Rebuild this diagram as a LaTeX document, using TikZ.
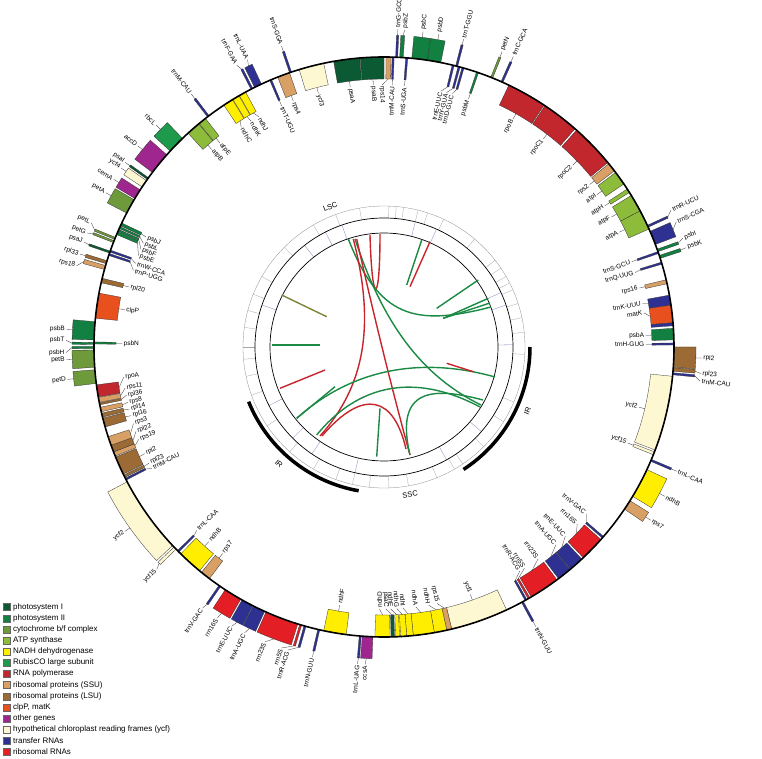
\documentclass[tikz,border=0pt]{standalone}
\usepackage{fontspec}
\setmainfont{Liberation Sans}
\usepackage{tikz}

\definecolor{psI}{HTML}{0B5A33}
\definecolor{psII}{HTML}{118040}
\definecolor{cyt}{HTML}{6E9A3C}
\definecolor{atp}{HTML}{8DBB3A}
\definecolor{ndh}{HTML}{FFEE00}
\definecolor{rubisco}{HTML}{1E9A4C}
\definecolor{rnap}{HTML}{C1272D}
\definecolor{ssu}{HTML}{D9A066}
\definecolor{lsu}{HTML}{9C6A35}
\definecolor{clp}{HTML}{E8501E}
\definecolor{other}{HTML}{A0268F}
\definecolor{ycf}{HTML}{FDF7D2}
\definecolor{trna}{HTML}{2E3192}
\definecolor{rrna}{HTML}{E31E24}
\definecolor{chgreen}{HTML}{1A8A45}
\definecolor{chred}{HTML}{C8242B}

\tikzset{
  glabel/.style={inner sep=0.5pt,font=\fontsize{6.5}{7}\selectfont},
  leader/.style={line width=0.3pt,black!80},
  chord/.style={line width=1.4pt},
  ringtick/.style={line width=0.3pt,black!35},
}

% gene box between two angles (clockwise from north) and two radii
\newcommand{\gbox}[5]{%
  \pgfmathsetmacro\ga{90-#1}\pgfmathsetmacro\gb{90-#2}%
  \filldraw[fill=#5,draw=black!80,line width=0.3pt] (\ga:#3) arc[start angle=\ga,end angle=\gb,radius=#3]
    -- (\gb:#4) arc[start angle=\gb,end angle=\ga,radius=#4] -- cycle;}
% gene outside the circle
\newcommand{\gout}[5][]{%
  \gbox{#2}{#3}{290}{312}{#4}%
  \pgfmathsetmacro\gm{90-(#2+#3)/2}%
  \ifx\relax#1\relax\let\gl\gm\else\pgfmathsetmacro\gl{90-#1}\fi
  \pgfmathtruncatemacro\gside{cos(\gl)>=0 ? 1 : 0}%
  \draw[leader] (\gm:312) -- (\gl:318);
  \ifnum\gside=1 \node[glabel,anchor=west,rotate=\gl] at (\gl:319) {#5};
  \else \pgfmathsetmacro\gr{\gl+180}\node[glabel,anchor=east,rotate=\gr] at (\gl:319) {#5};\fi}
% gene inside the circle
\newcommand{\gin}[5][]{%
  \gbox{#2}{#3}{268}{290}{#4}%
  \pgfmathsetmacro\gm{90-(#2+#3)/2}%
  \ifx\relax#1\relax\let\gl\gm\else\pgfmathsetmacro\gl{90-#1}\fi
  \pgfmathtruncatemacro\gside{cos(\gl)>=0 ? 1 : 0}%
  \draw[leader] (\gm:268) -- (\gl:262);
  \ifnum\gside=1 \node[glabel,anchor=east,rotate=\gl] at (\gl:261) {#5};
  \else \pgfmathsetmacro\gr{\gl+180}\node[glabel,anchor=west,rotate=\gr] at (\gl:261) {#5};\fi}

\begin{document}
\begin{tikzpicture}[x=1pt,y=1pt]
  \useasboundingbox[fill=white] (-384,-412) rectangle (378,347);

  % LSC
  \gin{350}{355.2}{psI}{psaA}
  \gin{355.3}{360}{psI}{psaB}
  \gin[359.6]{0.4}{1.4}{ssu}{rps14}
  \gin[1.8]{1.6}{2}{trna}{trnM-CAU}
  \gout{2.3}{2.7}{trna}{trnG-GCC}
  \gout[3.8]{3.1}{3.8}{psII}{psbZ}
  \gin{4.3}{4.7}{trna}{trnS-UGA}
  \gout{5.5}{8.6}{psII}{psbC}
  \gout{8.6}{11.3}{psII}{psbD}
  \gout{14.3}{14.7}{trna}{trnT-GGU}
  \gin[12.5]{13.6}{14}{trna}{trnE-UUC}
  \gin[13.8]{14.8}{15.2}{trna}{trnY-GUA}
  \gin[15.1]{15.6}{16}{trna}{trnD-GUC}
  \gin{18.6}{19}{psII}{psbM}
  \gout{21.6}{22}{cyt}{petN}
  \gout{23.8}{24.2}{trna}{trnC-GCA}
  \gin{25.5}{33.5}{rnap}{rpoB}
  \gin{33.7}{41.2}{rnap}{rpoC1}
  \gin{41.6}{50.5}{rnap}{rpoC2}
  \gin{50.8}{52.6}{ssu}{rps2}
  \gin{53}{55.8}{atp}{atpI}
  \gin{57}{57.8}{atp}{atpH}
  \gin{58.5}{62}{atp}{atpF}
  \gin{62}{66}{atp}{atpA}
  \gout[64.5]{65.2}{65.6}{trna}{trnR-UCU}
  \gout[66.8]{66.5}{69.3}{trna}{trnS-CGA}
  \gout[70]{70.3}{70.8}{psII}{psbI}
  \gout[71.8]{71.6}{72.2}{psII}{psbK}
  \gin[71]{70.8}{71.2}{trna}{trnS-GCU}
  \gin[73.5]{73}{73.4}{trna}{trnQ-UUG}
  \gin{76.6}{77.4}{ssu}{rps16}
  \gin[80.5]{79.7}{81.7}{trna}{trnK-UUU}
  \gin[82.5]{81.7}{85.2}{clp}{matK}
  \gbox{85.2}{85.8}{268}{290}{trna}
  \gin{86.3}{88.6}{psII}{psbA}
  \gin{89.2}{89.6}{trna}{trnH-GUG}
  % IRa
  \gout{90}{94}{lsu}{rpl2}
  \gout[94.8]{94.1}{94.8}{lsu}{rpl23}
  \gout[96.2]{95.1}{95.5}{trna}{trnM-CAU}
  \gin{95.8}{110.8}{ycf}{ycf2}
  \gin{111.2}{111.8}{ycf}{ycf15}
  \gout{112.8}{113.2}{trna}{trnL-CAA}
  \gout{115}{121}{ndh}{ndhB}
  \gout{122}{124}{ssu}{rps7}
  \gin[129.5]{130.8}{131.2}{trna}{trnV-GAC}
  \gin[132.5]{131.6}{136.6}{rrna}{rrn16S}
  \gin[136.2]{137}{140}{trna}{trnE-UUC}
  \gin[139]{140.1}{143}{trna}{trnA-UGC}
  \gin[144]{143.4}{149.5}{rrna}{rrn23S}
  \gin[147.6]{149.8}{150.2}{rrna}{rrn5S}
  \gin[148.8]{150.5}{150.9}{trna}{trnR-ACG}
  \gout{151.3}{151.7}{trna}{trnN-GUU}
  % SSC
  \gin{155}{166.5}{ycf}{ycf1}
  \gin[168.3]{166.5}{167.5}{ssu}{rps15}
  \gin[170.2]{167.5}{170}{ndh}{ndhH}
  \gin[173]{170}{174.2}{ndh}{ndhA}
  \gin[175.8]{174.2}{175.5}{ndh}{ndhI}
  \gin[177.2]{175.5}{176.7}{ndh}{ndhG}
  \gin[178.5]{176.9}{177.7}{ndh}{ndhE}
  \gin[179.6]{177.9}{178.6}{psI}{psaC}
  \gin[181]{178.8}{181.8}{ndh}{ndhD}
  \gout[183.4]{182.2}{184.3}{other}{ccsA}
  \gout[184.8]{184.5}{184.9}{trna}{trnL-UAG}
  \gin{187.5}{192}{ndh}{ndhF}
  \gout{192.8}{193.2}{trna}{trnN-GUU}
  % IRb
  \gout[197.6]{195.6}{196}{trna}{trnR-ACG}
  \gout[198.8]{196.5}{196.9}{rrna}{rrn5S}
  \gout[202]{197.3}{204}{rrna}{rrn23S}
  \gout[206]{204.3}{206.8}{trna}{trnA-UGC}
  \gout[208.6]{206.9}{209.3}{trna}{trnE-UUC}
  \gout[211.6]{209.6}{213.2}{rrna}{rrn16S}
  \gout[214.8]{214.3}{214.7}{trna}{trnV-GAC}
  \gin{217}{219}{ssu}{rps7}
  \gin{219.5}{224.5}{ndh}{ndhB}
  \gin[225.6]{225}{225.4}{trna}{trnL-CAA}
  \gout[225.6]{225.8}{226.4}{ycf}{ycf15}
  \gout{226.8}{242.3}{ycf}{ycf2}
  \gin[242.4]{242.7}{243.1}{trna}{trnM-CAU}
  \gin[243.7]{243.3}{243.8}{lsu}{rpl23}
  \gin[246]{244}{247.7}{lsu}{rpl2}
  % LSC
  \gin[249.4]{247.9}{248.8}{ssu}{rps19}
  \gin[251.2]{248.8}{250.2}{lsu}{rpl22}
  \gin[253]{250.2}{252}{ssu}{rps3}
  \gin[254.8]{254}{255.8}{lsu}{rpl16}
  \gin[256.3]{256}{256.8}{lsu}{rpl14}
  \gin[257.8]{257.1}{258}{ssu}{rps8}
  \gin[259.4]{258.5}{258.9}{lsu}{rpl36}
  \gin[261]{259}{260}{ssu}{rps11}
  \gin[263.4]{260.1}{262.5}{rnap}{rpoA}
  \gout{262.8}{265.5}{cyt}{petD}
  \gout{266}{269.4}{cyt}{petB}
  \gout[269]{269.7}{270.1}{psII}{psbH}
  \gout[271.2]{270.5}{270.9}{psII}{psbT}
  \gin{270.6}{271}{psII}{psbN}
  \gout{271.4}{275}{psII}{psbB}
  \gin{275.7}{280.7}{clp}{clpP}
  \gin{282.8}{283.7}{lsu}{rpl20}
  \gout[284.8]{285.5}{286.3}{ssu}{rps18}
  \gout[287]{286.7}{287.3}{lsu}{rpl33}
  \gout[289.3]{288.9}{289.3}{psI}{psaJ}
  \gin[287]{288.4}{288.8}{trna}{trnP-UGG}
  \gin[288.6]{289.1}{289.5}{trna}{trnW-CCA}
  \gout[291]{291.1}{291.5}{cyt}{petG}
  \gout[293]{291.8}{292.2}{cyt}{petL}
  \gin[290.4]{292.8}{293.4}{psII}{psbE}
  \gin[291.9]{293.5}{293.9}{psII}{psbF}
  \gin[293.3]{294.1}{294.5}{psII}{psbL}
  \gin[294.8]{294.7}{295.3}{psII}{psbJ}
  \gout{297.5}{300.5}{cyt}{petA}
  \gout{300.8}{302.8}{other}{cemA}
  \gout{303.5}{305}{ycf}{ycf4}
  \gout{305.3}{305.7}{psI}{psaI}
  \gout{307}{311.5}{other}{accD}
  \gout{312.5}{316}{rubisco}{rbcL}
  \gin{317.5}{320.3}{atp}{atpB}
  \gin{320.4}{322}{atp}{atpE}
  \gout{322.5}{322.9}{trna}{trnM-CAU}
  \gin[327]{326.5}{328.5}{ndh}{ndhC}
  \gin[329.5]{328.6}{330}{ndh}{ndhK}
  \gin[331.5]{330.1}{331.5}{ndh}{ndhJ}
  \gout[332.4]{332.7}{333.1}{trna}{trnF-GAA}
  \gout[334.6]{333.5}{335}{trna}{trnL-UAA}
  \gin{336.8}{337.2}{trna}{trnT-UGU}
  \gin{338.5}{341}{ssu}{rps4}
  \gout{341}{341.4}{trna}{trnS-GGA}
  \gin{343}{348}{ycf}{ycf3}

  % genome circle
  \draw[line width=1.6pt] (0,0) circle[radius=290];

  % inner rings
  \draw[line width=0.3pt,black!45] (0,0) circle[radius=141];
  \foreach \t in {2,5,8,14,18,25,40,52,56,60,63,66,72,78,84,93,113,122,135,146,150,158,170,178,186,193,200,210,222,236,250,258,265,270,278,285,292,300,315,330,340,350}
    \draw[ringtick] ({90-\t}:129) -- ({90-\t}:141);
  \foreach \t in {14,24,65,71,89,131,151,193,214,225,243,289,322,333,341}
    \draw[line width=0.3pt,trna!60] ({90-\t}:114) -- ({90-\t}:129);
  \draw[line width=0.7pt] (0,0) circle[radius=129];
  \draw[line width=0.7pt] (0,0) circle[radius=114];
  \draw[line width=3.5pt] (0:146) arc[start angle=0,end angle=-57,radius=146];
  \draw[line width=3.5pt] (-100:146) arc[start angle=-100,end angle=-158,radius=146];
  \node[glabel,font=\fontsize{7.5}{8}\selectfont,rotate=21] (lsc) at (111:150) {LSC};
  \node[glabel,font=\fontsize{7.5}{8}\selectfont,rotate=10] (ssc) at (-80:150) {SSC};
  \node[glabel,font=\fontsize{7.5}{8}\selectfont,rotate=66] (ira) at (-24:157) {IR};
  \node[glabel,font=\fontsize{7.5}{8}\selectfont,rotate=-42] (irb) at (-132:157) {IR};

  % repeats
  \draw[chord,chred] (-14,112) .. controls (-12,40) and (-4,40) .. (-4,113);
  \draw[chord,chgreen] (37.7,107) -- (22.7,62);
  \draw[chord,chred] (46,105.3) -- (26,60.3);
  \draw[chord,chgreen] (-35.7,108) .. controls (-5,30) and (30,20) .. (107,40);
  \draw[chord,chgreen] (59.3,28.7) -- (104.3,48.7);
  \draw[chord,chgreen] (59.3,28.7) -- (106,44);
  \draw[chord,chgreen] (52.7,38.7) -- (94.3,67);
  \draw[chord,chgreen] (-29,108) .. controls (0,20) and (40,-30) .. (97,-58);
  \draw[chord,chred] (-30.7,108) .. controls (-8,20) and (-20,-40) .. (-64,-89);
  \draw[chord,chred] (-27.3,108) .. controls (-10,30) and (10,-50) .. (26,-108);
  \draw[chord,chred] (-62,-89) .. controls (-20,-40) and (10,-50) .. (22,-102);
  \draw[chord,cyt!80!chred] (-102.3,52) -- (-57.3,30.3);
  \draw[chord,chgreen] (-112.3,2) -- (-64,2);
  \draw[chord,chred] (-104,-41.3) -- (-59,-23);
  \draw[chord,chgreen] (-87.3,-71.3) -- (-49,-39.7);
  \draw[chord,chgreen] (-7.3,-109.7) -- (-4,-61.3);
  \draw[chord,chgreen] (26,-108) .. controls (10,-40) and (50,-40) .. (99,-53);
  \draw[chord,chgreen] (-87.3,-71.3) .. controls (-30,-20) and (40,-10) .. (111,-30);
  \draw[chord,chgreen] (-67.3,-88) .. controls (-20,-30) and (40,-30) .. (96,-60);
  \draw[chord,chred] (62.7,-16.3) -- (89.3,-24.7);

  % legend
  \foreach \c/\t [count=\i from 0] in {psI/photosystem I, psII/photosystem II,
      cyt/{cytochrome b/f complex}, atp/ATP synthase, ndh/NADH dehydrogenase,
      rubisco/RubisCO large subunit, rnap/RNA polymerase, ssu/ribosomal proteins (SSU),
      lsu/ribosomal proteins (LSU), clp/{clpP, matK}, other/other genes,
      ycf/hypothetical chloroplast reading frames (ycf), trna/transfer RNAs, rrna/ribosomal RNAs} {
    \filldraw[fill=\c,draw=black!60,line width=0.3pt] (-381,{-263.5-11.15*\i}) rectangle ++(7,7);
    \node[anchor=west,inner sep=0pt,font=\fontsize{8}{9}\selectfont] (leg\i) at (-371,{-260-11.15*\i}) {\t};
  }
\end{tikzpicture}
\end{document}
